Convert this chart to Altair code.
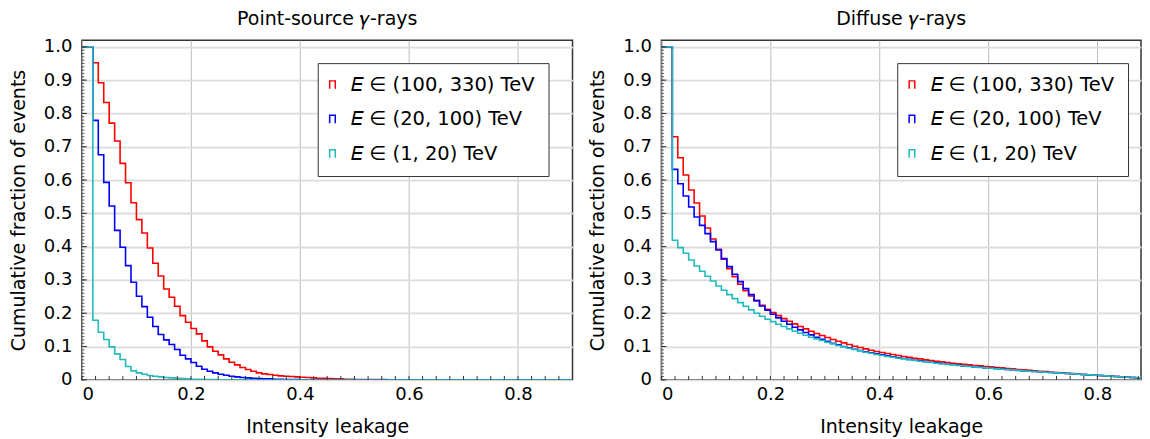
import altair as alt
import pandas as pd

# ---------------- data ----------------
BIN_EDGES = [round(i * 0.01, 2) for i in range(91)]  # histogram bin edges 0.00 ... 0.90

SERIES = ["𝐸 ∈ (100, 330) TeV", "𝐸 ∈ (20, 100) TeV", "𝐸 ∈ (1, 20) TeV"]
COLORS = ["#ff0000", "#0000ff", "#22bbbb"]

# Point-source gamma rays: cumulative fraction per bin (bins of 0.01)
ps_high = [1.0, 1.0, 0.952, 0.892, 0.833, 0.771, 0.717, 0.650, 0.592, 0.532,
           0.481, 0.441, 0.396, 0.350, 0.312, 0.273, 0.248, 0.221, 0.193, 0.173,
           0.154, 0.138, 0.117, 0.099, 0.086, 0.075, 0.063, 0.053, 0.045, 0.037,
           0.031, 0.026, 0.021, 0.018, 0.016, 0.014, 0.012, 0.011, 0.010, 0.009,
           0.008, 0.007, 0.006, 0.005, 0.005, 0.004, 0.003, 0.003, 0.002, 0.002,
           0.001, 0.001, 0.001, 0.001, 0.001, 0.001, 0.0, 0.0, 0.0, 0.0,
           0.0, 0.0, 0.0, 0.0, 0.0, 0.0, 0.0, 0.0, 0.0, 0.0,
           0.0, 0.0, 0.0, 0.0, 0.0, 0.0, 0.0, 0.0, 0.0, 0.0,
           0.0, 0.0, 0.0, 0.0, 0.0, 0.0, 0.0, 0.0, 0.0, 0.0]
ps_mid = [1.0, 1.0, 0.779, 0.676, 0.593, 0.522, 0.449, 0.398, 0.343, 0.293,
          0.251, 0.220, 0.188, 0.160, 0.136, 0.120, 0.106, 0.091, 0.074, 0.063,
          0.052, 0.041, 0.032, 0.026, 0.021, 0.017, 0.014, 0.011, 0.009, 0.007,
          0.006, 0.005, 0.004, 0.003, 0.003, 0.002, 0.002, 0.001, 0.001, 0.001,
          0.0, 0.0, 0.0, 0.0, 0.0, 0.0, 0.0, 0.0, 0.0, 0.0,
          0.0, 0.0, 0.0, 0.0, 0.0, 0.0, 0.0, 0.0, 0.0, 0.0,
          0.0, 0.0, 0.0, 0.0, 0.0, 0.0, 0.0, 0.0, 0.0, 0.0,
          0.0, 0.0, 0.0, 0.0, 0.0, 0.0, 0.0, 0.0, 0.0, 0.0,
          0.0, 0.0, 0.0, 0.0, 0.0, 0.0, 0.0, 0.0, 0.0, 0.0]
ps_low = [1.0, 1.0, 0.179, 0.143, 0.121, 0.099, 0.078, 0.061, 0.040, 0.027,
          0.021, 0.017, 0.013, 0.011, 0.009, 0.007, 0.006, 0.005, 0.004, 0.003,
          0.002, 0.002, 0.001, 0.001, 0.001, 0.0, 0.0, 0.0, 0.0, 0.0,
          0.0, 0.0, 0.0, 0.0, 0.0, 0.0, 0.0, 0.0, 0.0, 0.0,
          0.0, 0.0, 0.0, 0.0, 0.0, 0.0, 0.0, 0.0, 0.0, 0.0,
          0.0, 0.0, 0.0, 0.0, 0.0, 0.0, 0.0, 0.0, 0.0, 0.0,
          0.0, 0.0, 0.0, 0.0, 0.0, 0.0, 0.0, 0.0, 0.0, 0.0,
          0.0, 0.0, 0.0, 0.0, 0.0, 0.0, 0.0, 0.0, 0.0, 0.0,
          0.0, 0.0, 0.0, 0.0, 0.0, 0.0, 0.0, 0.0, 0.0, 0.0]

# Diffuse gamma rays
df_high = [1.0, 1.0, 0.730, 0.667, 0.615, 0.570, 0.531, 0.492, 0.456, 0.423,
           0.392, 0.362, 0.334, 0.310, 0.287, 0.268, 0.252, 0.238, 0.224, 0.212,
           0.202, 0.193, 0.184, 0.176, 0.168, 0.160, 0.153, 0.146, 0.139, 0.133,
           0.127, 0.121, 0.116, 0.111, 0.106, 0.101, 0.097, 0.093, 0.089, 0.085,
           0.082, 0.079, 0.076, 0.073, 0.070, 0.068, 0.065, 0.063, 0.060, 0.058,
           0.056, 0.054, 0.052, 0.050, 0.048, 0.047, 0.045, 0.043, 0.042, 0.040,
           0.039, 0.037, 0.036, 0.034, 0.033, 0.031, 0.030, 0.029, 0.027, 0.026,
           0.025, 0.023, 0.022, 0.021, 0.020, 0.019, 0.017, 0.016, 0.015, 0.014,
           0.013, 0.012, 0.011, 0.010, 0.009, 0.008, 0.007, 0.006, 0.005, 0.004]
df_mid = [1.0, 1.0, 0.632, 0.589, 0.552, 0.519, 0.489, 0.464, 0.439, 0.415,
          0.390, 0.364, 0.340, 0.317, 0.295, 0.274, 0.256, 0.238, 0.222, 0.209,
          0.197, 0.186, 0.176, 0.167, 0.158, 0.150, 0.142, 0.135, 0.128, 0.122,
          0.116, 0.110, 0.105, 0.100, 0.096, 0.092, 0.088, 0.084, 0.081, 0.078,
          0.075, 0.072, 0.069, 0.066, 0.064, 0.062, 0.059, 0.057, 0.055, 0.053,
          0.051, 0.049, 0.047, 0.046, 0.044, 0.042, 0.041, 0.039, 0.038, 0.036,
          0.035, 0.034, 0.032, 0.031, 0.030, 0.028, 0.027, 0.026, 0.025, 0.024,
          0.023, 0.022, 0.021, 0.020, 0.019, 0.018, 0.017, 0.016, 0.015, 0.014,
          0.013, 0.012, 0.011, 0.010, 0.009, 0.008, 0.007, 0.006, 0.005, 0.004]
df_low = [1.0, 1.0, 0.419, 0.397, 0.380, 0.360, 0.342, 0.326, 0.311, 0.297,
          0.282, 0.269, 0.256, 0.244, 0.232, 0.221, 0.210, 0.200, 0.191, 0.182,
          0.175, 0.167, 0.160, 0.153, 0.146, 0.140, 0.134, 0.128, 0.123, 0.118,
          0.113, 0.108, 0.103, 0.099, 0.095, 0.091, 0.087, 0.083, 0.080, 0.076,
          0.073, 0.070, 0.068, 0.065, 0.063, 0.060, 0.058, 0.056, 0.054, 0.052,
          0.050, 0.048, 0.046, 0.045, 0.043, 0.042, 0.040, 0.039, 0.037, 0.036,
          0.035, 0.033, 0.032, 0.031, 0.030, 0.029, 0.027, 0.026, 0.025, 0.024,
          0.023, 0.022, 0.021, 0.020, 0.019, 0.018, 0.017, 0.016, 0.015, 0.014,
          0.013, 0.012, 0.011, 0.010, 0.009, 0.008, 0.007, 0.006, 0.006, 0.005]

X_TICKS = [0, 0.2, 0.4, 0.6, 0.8]
Y_TICKS = [0, 0.1, 0.2, 0.3, 0.4, 0.5, 0.6, 0.7, 0.8, 0.9, 1.0]
X_MINOR = [i * 0.025 for i in range(37)]
Y_MINOR = [round(i * 0.01, 2) for i in range(101)]

FONT = "DejaVu Sans"
H = 340
LABEL_EXPR = "datum.value == 0 ? '0' : format(datum.value, '.1f')"


def series_frame(values_list):
    rows = []
    for name, vals in zip(SERIES, values_list):
        for i, v in enumerate(vals):
            rows.append({"x": BIN_EDGES[i], "y": v, "s": name})
        rows.append({"x": BIN_EDGES[len(vals)], "y": vals[-1], "s": name})
    return pd.DataFrame(rows)


def panel(values_list, title, width, xmax):
    data = series_frame(values_list)
    xs = alt.Scale(domain=[0, xmax], nice=False, zero=False)
    ys = alt.Scale(domain=[0, 1.02], nice=False, zero=False)
    lines = alt.Chart(data).mark_line(interpolate="step-after", strokeWidth=1.6, clip=True).encode(
        x=alt.X("x:Q", scale=xs, axis=alt.Axis(
            values=X_TICKS, title="Intensity leakage", labelExpr=LABEL_EXPR)),
        y=alt.Y("y:Q", scale=ys, axis=alt.Axis(
            values=Y_TICKS, title="Cumulative fraction of events", labelExpr=LABEL_EXPR)),
        color=alt.Color("s:N", scale=alt.Scale(domain=SERIES, range=COLORS),
                        legend=alt.Legend(
                            title=None, orient="none", legendX=236, legendY=23,
                            strokeColor="#333333", fillColor="white", padding=12,
                            rowPadding=13.5, labelFontSize=19.5, labelFont=FONT,
                            labelColor="black", labelOffset=9, labelLimit=400,
                            symbolOffset=-7,
                            symbolType="M-0.7,1L-0.7,-1L0.7,-1L0.7,1",
                            symbolSize=64, symbolStrokeWidth=1.5,
                            symbolFillColor="transparent", cornerRadius=0)),
    )
    xminor = alt.Chart(pd.DataFrame({"v": [t for t in X_MINOR if t <= xmax]})).mark_rule(
        color="#333333", strokeWidth=1).encode(
        x=alt.X("v:Q", scale=xs, axis=None), y=alt.value(H), y2=alt.value(H - 4))
    yminor = alt.Chart(pd.DataFrame({"v": Y_MINOR})).mark_rule(
        color="#333333", strokeWidth=0.8).encode(
        y=alt.Y("v:Q", scale=ys, axis=None), x=alt.value(0), x2=alt.value(2.5))
    ymajor = alt.Chart(pd.DataFrame({"v": Y_TICKS})).mark_rule(
        color="#333333", strokeWidth=1).encode(
        y=alt.Y("v:Q", scale=ys, axis=None), x=alt.value(0), x2=alt.value(5))
    return alt.layer(lines, xminor, yminor, ymajor).resolve_axis(
        x="independent", y="independent").properties(
        width=width, height=H,
        title=alt.TitleParams(title, fontSize=19, font=FONT, fontWeight="normal",
                              offset=9, color="black"))


left = panel([ps_high, ps_mid, ps_low], "Point-source 𝛾-rays", 491, 0.9)
right = panel([df_high, df_mid, df_low], "Diffuse 𝛾-rays", 480, 0.88)

chart = alt.hconcat(left, right, spacing=13).resolve_scale(
    color="independent").resolve_legend(color="independent").configure_view(
    stroke="#333333", strokeWidth=1.5).configure_axis(
    labelFont=FONT, titleFont=FONT, labelFontSize=18, titleFontSize=19,
    labelColor="black", titleColor="black", titleFontWeight="normal",
    ticks=False, domain=False).configure_axisX(
    gridColor="#bdbdbd", gridWidth=1, labelPadding=6, titlePadding=14).configure_axisY(
    gridColor="#dcdcdc", gridWidth=1.8, labelPadding=10, titlePadding=15).properties(
    padding=0, background="white")

chart.save("out.html", embed_options={"renderer": "svg", "actions": False})
